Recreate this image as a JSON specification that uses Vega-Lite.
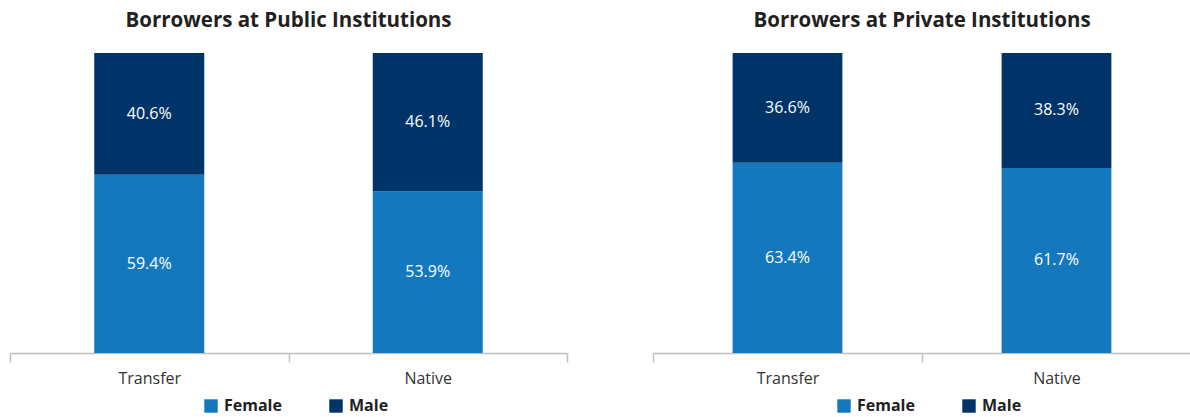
{
  "$schema": "https://vega.github.io/schema/vega-lite/v6.json",
  "padding": {"left": 9, "top": 10, "right": 0, "bottom": 28},
  "autosize": {"type": "pad"},
  "config": {
    "view": {"stroke": null},
    "font": "Open Sans",
    "title": {"fontSize": 20.5, "fontWeight": "bold", "color": "#231f20", "offset": 22, "anchor": "middle"}
  },
  "data": {
    "values": [
      {"panel": "Public", "group": "Transfer", "gender": "Female", "value": 0.594},
      {"panel": "Public", "group": "Transfer", "gender": "Male", "value": 0.406},
      {"panel": "Public", "group": "Native", "gender": "Female", "value": 0.539},
      {"panel": "Public", "group": "Native", "gender": "Male", "value": 0.461},
      {"panel": "Private", "group": "Transfer", "gender": "Female", "value": 0.634},
      {"panel": "Private", "group": "Transfer", "gender": "Male", "value": 0.366},
      {"panel": "Private", "group": "Native", "gender": "Female", "value": 0.617},
      {"panel": "Private", "group": "Native", "gender": "Male", "value": 0.383}
    ]
  },
  "spacing": 84,
  "hconcat": [
    {
      "width": 557,
      "height": 300,
      "title": "Borrowers at Public Institutions",
      "transform": [
        {"filter": "datum.panel === 'Public'"},
        {"stack": "value", "groupby": ["group"], "sort": [{"field": "gender", "order": "ascending"}], "as": ["y0", "y1"]},
        {"calculate": "(datum.y0 + datum.y1) / 2", "as": "mid"}
      ],
      "encoding": {
        "x": {
          "field": "group", "type": "nominal", "sort": ["Transfer", "Native"],
          "scale": {"paddingInner": 0, "paddingOuter": 0},
          "title": null,
          "axis": {"labelAngle": 0, "tickBand": "extent", "domainColor": "#bfbfbf", "tickColor": "#bfbfbf", "tickSize": 9, "domainWidth": 1.5, "tickWidth": 1.5, "labelFontSize": 16, "labelColor": "#333333", "labelPadding": 8}
        }
      },
      "layer": [
        {
          "mark": {"type": "bar", "width": {"band": 0.395}},
          "encoding": {
            "y": {"field": "y0", "type": "quantitative", "scale": {"domain": [0, 1]}, "axis": null},
            "y2": {"field": "y1"},
            "color": {
              "field": "gender", "type": "nominal",
              "scale": {"domain": ["Female", "Male"], "range": ["#1478be", "#003468"]},
              "legend": {"orient": "none", "legendX": 193, "legendY": 345, "direction": "horizontal", "title": null, "symbolType": "square", "symbolSize": 180, "symbolStrokeWidth": 0, "labelFontSize": 16, "labelFontWeight": "bold", "labelColor": "#231f20", "columnPadding": 46, "labelOffset": 5}
            }
          }
        },
        {
          "mark": {"type": "text", "color": "white", "fontSize": 16},
          "encoding": {
            "y": {"field": "mid", "type": "quantitative", "scale": {"domain": [0, 1]}},
            "text": {"field": "value", "type": "quantitative", "format": ".1%"}
          }
        }
      ]
    },
    {
      "width": 538,
      "height": 300,
      "title": "Borrowers at Private Institutions",
      "transform": [
        {"filter": "datum.panel === 'Private'"},
        {"stack": "value", "groupby": ["group"], "sort": [{"field": "gender", "order": "ascending"}], "as": ["y0", "y1"]},
        {"calculate": "(datum.y0 + datum.y1) / 2", "as": "mid"}
      ],
      "encoding": {
        "x": {
          "field": "group", "type": "nominal", "sort": ["Transfer", "Native"],
          "scale": {"paddingInner": 0, "paddingOuter": 0},
          "title": null,
          "axis": {"labelAngle": 0, "tickBand": "extent", "domainColor": "#bfbfbf", "tickColor": "#bfbfbf", "tickSize": 9, "domainWidth": 1.5, "tickWidth": 1.5, "labelFontSize": 16, "labelColor": "#333333", "labelPadding": 8}
        }
      },
      "layer": [
        {
          "mark": {"type": "bar", "width": {"band": 0.408}},
          "encoding": {
            "y": {"field": "y0", "type": "quantitative", "scale": {"domain": [0, 1]}, "axis": null},
            "y2": {"field": "y1"},
            "color": {
              "field": "gender", "type": "nominal",
              "scale": {"domain": ["Female", "Male"], "range": ["#1478be", "#003468"]},
              "legend": {"orient": "none", "legendX": 183, "legendY": 345, "direction": "horizontal", "title": null, "symbolType": "square", "symbolSize": 180, "symbolStrokeWidth": 0, "labelFontSize": 16, "labelFontWeight": "bold", "labelColor": "#231f20", "columnPadding": 46, "labelOffset": 5}
            }
          }
        },
        {
          "mark": {"type": "text", "color": "white", "fontSize": 16},
          "encoding": {
            "y": {"field": "mid", "type": "quantitative", "scale": {"domain": [0, 1]}},
            "text": {"field": "value", "type": "quantitative", "format": ".1%"}
          }
        }
      ]
    }
  ],
  "resolve": {"legend": {"color": "independent"}}
}
